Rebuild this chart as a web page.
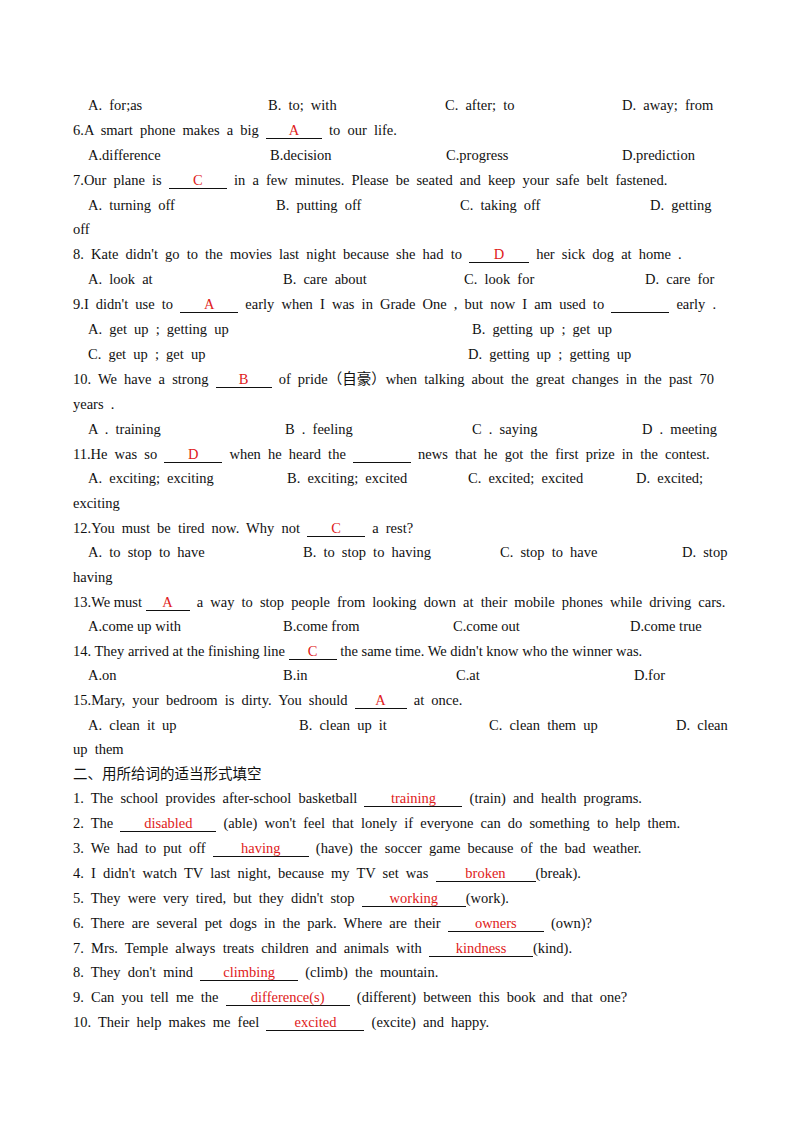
<!DOCTYPE html>
<html><head><meta charset="utf-8">
<script src="https://cdn.jsdelivr.net/npm/chart.js@4"></script>
<style>
body{margin:0;background:#fff;width:800px;height:1132px;position:relative;font-family:"Liberation Serif","Noto Sans CJK SC",serif;font-size:14.5px;color:#111}
.t{position:absolute;white-space:pre;line-height:18px;word-spacing:0}
.w{word-spacing:3.5px}
.b{display:inline-block;border-bottom:1px solid #111;text-align:center;color:#e02020;line-height:15px}
</style></head><body>
<script>
// 行的纵坐标（页面上从上到下）
const rowTops = [96,121,146,171,196,220,245,270,295,320,345,370,395,420,445,469,494,519,543,568,593,617,642,666,691,716,740,765,789,814,839,864,889,914,939,963,988,1013];

// 选项行：[行号, [x, 文本]...]
const optionRows = [
  [0, [88,"A.  for;as"],[268,"B.  to;  with"],[445,"C.  after;  to"],[622,"D.  away;  from"]],
  [2, [88,"A.difference"],[270,"B.decision"],[446,"C.progress"],[622,"D.prediction"]],
  [4, [88,"A.  turning  off"],[276,"B.  putting  off"],[460,"C.  taking  off"],[650,"D.  getting"]],
  [7, [88,"A.  look  at"],[283,"B.  care  about"],[464,"C.  look  for"],[645,"D.  care  for"]],
  [9, [88,"A.  get  up  ;  getting  up"],[472,"B.  getting  up  ;  get  up"]],
  [10,[88,"C.  get  up  ;  get  up"],[468,"D.  getting  up  ;  getting  up"]],
  [13,[88,"A  .  training"],[285,"B  .  feeling"],[472,"C  .  saying"],[642,"D  .  meeting"]],
  [15,[88,"A.  exciting;  exciting"],[287,"B.  exciting;  excited"],[468,"C.  excited;  excited"],[636,"D.  excited;"]],
  [18,[88,"A.  to  stop  to  have"],[303,"B.  to  stop  to  having"],[500,"C.  stop  to  have"],[682,"D.  stop"]],
  [21,[88,"A.come up with"],[283,"B.come from"],[453,"C.come out"],[630,"D.come true"]],
  [23,[88,"A.on"],[283,"B.in"],[456,"C.at"],[634,"D.for"]],
  [25,[88,"A.  clean  it  up"],[299,"B.  clean  up  it"],[489,"C.  clean  them  up"],[676,"D.  clean"]]
];

// 题干行：[行号, x, 片段...]；{a:答案, w:宽度} 表示下划线空
const textRows = [
  [1,73,"6.A  smart  phone  makes  a  big  ",{a:"A",w:56},"  to  our  life."],
  [3,73,"7.Our  plane  is  ",{a:"C",w:58},"  in  a  few  minutes.  Please  be  seated  and  keep  your  safe  belt  fastened."],
  [5,73,"off"],
  [6,73,"8.  Kate  didn't  go  to  the  movies  last  night  because  she  had  to  ",{a:"D",w:60},"  her  sick  dog  at  home  ."],
  [8,73,"9.I  didn't  use  to  ",{a:"A",w:58},"  early  when  I  was  in  Grade  One  ,  but  now  I  am  used  to  ",{a:"",w:58},"  early  ."],
  [11,73,"10.  We  have  a  strong  ",{a:"B",w:56},"  of  pride（自豪）when  talking  about  the  great  changes  in  the  past  70"],
  [12,73,"years  ."],
  [14,73,"11.He  was  so  ",{a:"D",w:58},"  when  he  heard  the  ",{a:"",w:58},"  news  that  he  got  the  first  prize  in  the  contest."],
  [16,73,"exciting"],
  [17,73,"12.You  must  be  tired  now.  Why  not  ",{a:"C",w:58},"  a  rest?"],
  [19,73,"having"],
  [20,73,"13.We must ",{a:"A",w:44},"  a  way  to stop people from looking down at their mobile phones while driving cars."],
  [22,73,"14. They arrived at the finishing line ",{a:"C",w:48}," the same time. We didn't know who the winner was."],
  [24,73,"15.Mary,  your  bedroom  is  dirty.  You  should  ",{a:"A",w:52},"  at  once."],
  [26,73,"up  them"],
  [27,73,"二、用所给词的适当形式填空"],
  [28,73,"1.  The school provides after-school basketball ",{a:"training",w:98},"  (train)  and health programs."],
  [29,73,"2.  The  ",{a:"disabled",w:96},"  (able)  won't  feel  that  lonely  if  everyone  can  do  something  to  help  them."],
  [30,73,"3.  We  had  to  put  off  ",{a:"having",w:96},"  (have)  the  soccer  game  because  of  the  bad  weather."],
  [31,73,"4.  I  didn't  watch  TV  last  night,  because  my  TV  set  was  ",{a:"broken",w:100},"(break)."],
  [32,73,"5.  They  were  very  tired,  but  they  didn't  stop  ",{a:"working",w:104},"(work)."],
  [33,73,"6.  There  are  several  pet  dogs  in  the  park.  Where  are  their  ",{a:"owners",w:96},"  (own)?"],
  [34,73,"7.  Mrs.  Temple  always  treats  children  and  animals  with  ",{a:"kindness",w:104},"(kind)."],
  [35,73,"8.  They  don't  mind  ",{a:"climbing",w:98},"  (climb)  the  mountain."],
  [36,73,"9.  Can  you  tell  me  the  ",{a:"difference(s)",w:124},"  (different)  between  this  book  and  that  one?"],
  [37,73,"10.  Their  help  makes  me  feel  ",{a:"excited",w:98},"  (excite)  and  happy."]
];

function place(row, x, parts){
  const d = document.createElement('div');
  d.className = 't';
  d.style.top = rowTops[row] + 'px';
  d.style.left = x + 'px';
  parts.forEach(p => {
    if (typeof p === 'string') {
      // 双空格的片段在原文里字距更宽
      const s = document.createElement('span');
      if (p.includes('  ')) s.className = 'w';
      s.textContent = p.replace(/  /g,' ');
      d.appendChild(s);
    } else {
      const s = document.createElement('span');
      s.className = 'b';
      s.style.width = p.w + 'px';
      s.textContent = p.a || '\u00a0';
      d.appendChild(s);
    }
  });
  document.body.appendChild(d);
}
optionRows.forEach(r => r.slice(1).forEach(([x, txt]) => place(r[0], x, [txt])));
textRows.forEach(r => place(r[0], r[1], r.slice(2)));
</script>
</body></html>
